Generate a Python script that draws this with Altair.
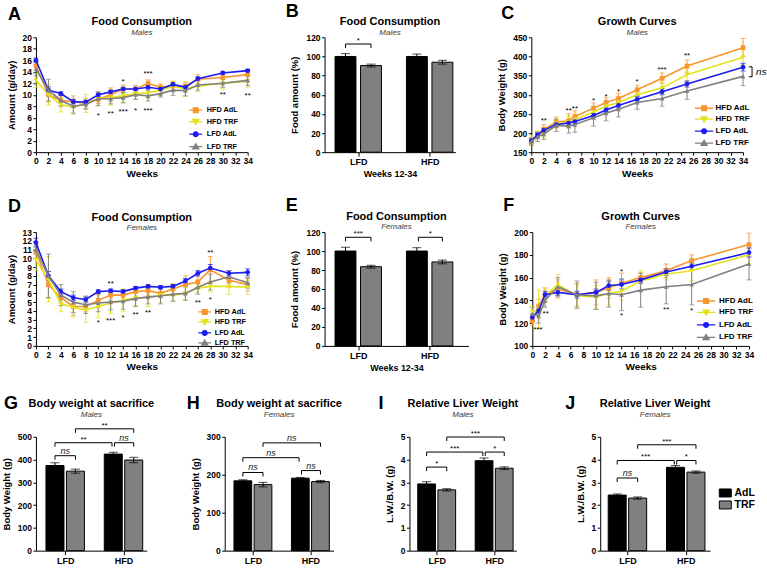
import altair as alt
import pandas as pd

FONT = "Liberation Sans"

# ---- series definitions -------------------------------------------------
SERIES = ["HFD AdL", "HFD TRF", "LFD AdL", "LFD TRF"]
SERIES_COLORS = ["#F7962F", "#E3E31B", "#1C1CF0", "#808080"]
POINT_SHAPES = ["square", "triangle-down", "circle", "triangle-up"]
GROUPS = ["AdL", "TRF"]
GROUP_COLORS = ["#000000", "#808080"]


def key_shapes(half):
    """Legend glyphs: a short line segment with the group's marker in its middle."""
    seg = f"M-{half},0H{half}"
    return [
        seg + "M-0.6,-0.6H0.6V0.6H-0.6Z",
        seg + "M-0.75,-0.55H0.75L0,0.7Z",
        seg + "M0.6,0A0.6,0.6,0,1,1,-0.6,0A0.6,0.6,0,1,1,0.6,0Z",
        seg + "M-0.75,0.55H0.75L0,-0.7Z",
    ]


# ---- A: food consumption, males ------------------------------------------
a_weeks = [0, 2, 4, 6, 8, 10, 12, 14, 16, 18, 20, 22, 24, 26, 30, 34]
a_hfd_adl = [15.0, 10.0, 9.0, 8.8, 8.5, 9.2, 10.0, 11.0, 11.0, 12.0, 11.3, 11.5, 11.5, 12.7, 13.0, 13.5]
a_hfd_trf = [12.5, 10.0, 8.3, 7.8, 8.5, 9.3, 9.5, 9.8, 10.2, 10.3, 10.8, 11.5, 11.0, 11.5, 12.0, 12.3]
a_lfd_adl = [16.0, 10.8, 10.2, 8.8, 8.7, 10.0, 10.5, 11.0, 11.0, 11.3, 11.0, 11.8, 11.3, 12.8, 13.8, 14.2]
a_lfd_trf = [14.5, 10.8, 9.0, 8.0, 8.3, 9.3, 9.3, 9.5, 10.0, 9.8, 10.2, 10.8, 10.7, 11.7, 12.0, 12.5]
a_hfd_adl_sem = [0.8, 1.2, 0.8, 1.0, 0.9, 0.7, 1.2, 0.7, 0.6, 0.6, 0.6, 0.8, 0.6, 0.8, 0.8, 0.9]
a_hfd_trf_sem = [1.2, 1.8, 1.3, 1.2, 1.6, 1.2, 1.3, 1.2, 1.0, 1.0, 0.8, 0.9, 1.3, 0.9, 1.0, 1.0]
a_lfd_adl_sem = [0.4, 0.6, 0.3, 0.4, 0.3, 0.3, 0.3, 0.3, 0.3, 0.3, 0.3, 0.3, 0.3, 0.3, 0.2, 0.2]
a_lfd_trf_sem = [1.2, 1.9, 1.0, 1.2, 0.8, 1.2, 0.9, 0.9, 0.8, 0.9, 0.6, 0.9, 0.9, 0.9, 0.7, 0.9]
a_star_weeks = [10, 12, 14, 16, 18, 14, 18, 30, 34]
a_star_y = [6.7, 7.0, 7.4, 7.6, 7.6, 12.5, 14.0, 10.3, 10.1]
a_star_text = ["*", "**", "***", "*", "***", "*", "***", "**", "**"]

# ---- C: growth curves, males ----------------------------------------------
c_weeks = [0, 1, 2, 4, 6, 7, 10, 12, 14, 17, 21, 25, 34]
c_hfd_adl = [178, 195, 210, 228, 232, 243, 265, 280, 290, 313, 343, 375, 423]
c_hfd_trf = [183, 190, 200, 225, 228, 235, 255, 270, 280, 300, 318, 352, 398]
c_lfd_adl = [180, 195, 207, 222, 226, 230, 246, 260, 272, 288, 308, 328, 372]
c_lfd_trf = [178, 190, 197, 220, 218, 222, 240, 252, 262, 280, 290, 310, 348]
c_hfd_adl_sem = [8, 10, 12, 14, 18, 15, 14, 12, 14, 12, 14, 16, 24]
c_hfd_trf_sem = [10, 12, 12, 12, 15, 14, 15, 14, 14, 14, 15, 16, 20]
c_lfd_adl_sem = [6, 6, 6, 6, 6, 6, 6, 6, 7, 7, 8, 8, 10]
c_lfd_trf_sem = [10, 12, 14, 16, 18, 20, 22, 20, 20, 18, 20, 22, 24]
c_star_weeks = [2, 6, 7, 10, 12, 14, 17, 21, 25]
c_star_y = [237, 262, 268, 290, 300, 312, 338, 369, 407]
c_star_text = ["**", "**", "**", "*", "*", "*", "*", "***", "**"]

# ---- D: food consumption, females -----------------------------------------
d_weeks = [0, 2, 4, 6, 8, 10, 12, 14, 16, 18, 20, 22, 24, 26, 28, 31, 34]
d_hfd_adl = [10.8, 7.0, 5.5, 4.5, 4.5, 5.2, 5.8, 5.8, 6.2, 6.3, 6.0, 6.5, 7.0, 7.3, 8.7, 7.5, 7.0]
d_hfd_trf = [9.8, 7.6, 4.8, 4.4, 4.1, 4.5, 4.9, 5.2, 5.5, 5.5, 5.8, 5.8, 6.0, 6.6, 6.8, 6.8, 6.7]
d_lfd_adl = [11.8, 8.0, 6.2, 5.5, 5.3, 6.2, 6.3, 6.2, 6.6, 6.8, 6.7, 6.8, 7.4, 8.3, 8.9, 8.3, 8.4]
d_lfd_trf = [11.0, 8.0, 5.8, 5.0, 4.7, 4.9, 5.0, 5.1, 5.4, 5.6, 5.7, 5.9, 6.0, 6.7, 7.3, 7.9, 7.2]
d_hfd_adl_sem = [0.8, 1.5, 0.6, 1.0, 0.6, 0.8, 0.6, 0.6, 0.5, 0.5, 0.5, 0.6, 1.0, 0.6, 1.5, 0.8, 0.7]
d_hfd_trf_sem = [1.2, 2.6, 0.9, 1.1, 1.4, 1.3, 1.2, 1.3, 0.9, 1.0, 0.8, 0.7, 0.7, 0.5, 0.6, 0.9, 0.8]
d_lfd_adl_sem = [0.5, 0.5, 0.3, 0.3, 0.3, 0.2, 0.2, 0.2, 0.2, 0.2, 0.2, 0.2, 0.3, 0.3, 0.4, 0.3, 0.4]
d_lfd_trf_sem = [0.5, 2.5, 1.2, 1.2, 1.0, 1.0, 0.9, 0.9, 0.9, 0.8, 0.9, 0.8, 0.8, 0.8, 0.9, 0.7, 0.6]
d_star_weeks = [10, 12, 14, 16, 18, 26, 28, 12, 28]
d_star_y = [2.9, 3.1, 3.4, 3.8, 4.0, 5.1, 5.5, 7.3, 10.8]
d_star_text = ["*", "***", "*", "**", "**", "**", "*", "**", "**"]

# ---- F: growth curves, females --------------------------------------------
f_weeks = [0, 1, 2, 4, 7, 10, 12, 14, 17, 21, 25, 34]
f_hfd_adl = [122, 135, 145, 150, 145, 147, 151, 155, 160, 166, 175, 189]
f_hfd_trf = [130, 132, 144, 154, 144, 143, 146, 148, 157, 163, 166, 180]
f_lfd_adl = [125, 131, 145, 147, 145, 147, 153, 154, 158, 165, 170, 182]
f_lfd_trf = [128, 126, 140, 152, 145, 144, 146, 145, 149, 152, 154, 172]
f_hfd_adl_sem = [4, 6, 6, 8, 10, 11, 9, 9, 4, 6, 5, 10]
f_hfd_trf_sem = [5, 17, 6, 9, 10, 10, 10, 8, 9, 5, 9, 8]
f_lfd_adl_sem = [3, 3, 3, 3, 3, 3, 4, 4, 3, 3, 3, 4]
f_lfd_trf_sem = [6, 6, 6, 8, 12, 12, 12, 14, 15, 15, 18, 14]
f_star_weeks = [0.9, 2.1, 14, 14, 21, 25]
f_star_y = [116, 130, 167, 128, 133, 132]
f_star_text = ["***", "**", "*", "*", "**", "*"]

# ---- bar panels: LFD AdL, LFD TRF, HFD AdL, HFD TRF -----------------------
b_means = [100, 90.5, 100, 94]
b_sems = [3, 1.5, 2.5, 2]
e_means = [100, 83.5, 100, 88.5]
e_sems = [4, 1.5, 3.5, 2]
g_means = [374, 349, 424, 398]
g_sems = [12, 9, 8, 12]
h_means = [184, 174, 191, 182]
h_sems = [3, 6, 2, 3]
i_means = [2.93, 2.67, 3.95, 3.62]
i_sems = [0.1, 0.05, 0.12, 0.06]
j_means = [2.44, 2.31, 3.66, 3.45]
j_sems = [0.05, 0.05, 0.08, 0.05]

# comparison brackets: (first bar, second bar, height, label)
b_brackets = [(0, 1, 113, "*")]
e_brackets = [(0, 1, 114.5, "***"), (2, 3, 114.5, "*")]
g_brackets = [(0, 1, 417, "ns"), (0, 2, 474, "**"), (2, 3, 474, "ns"), (1, 3, 535, "**")]
h_brackets = [(0, 1, 206, "ns"), (2, 3, 211, "ns"), (0, 2, 245, "ns"), (1, 3, 284, "ns")]
i_brackets = [(0, 1, 3.67, "*"), (0, 2, 4.33, "***"), (2, 3, 4.33, "*"), (1, 3, 4.99, "***")]
j_brackets = [(0, 1, 3.19, "ns"), (0, 2, 3.96, "***"), (2, 3, 3.96, "*"), (1, 3, 4.65, "***")]


def heading(width, title, subtitle, title_y, sub_y):
    """Panel title and italic subtitle drawn as text above the plot area."""
    t = alt.Chart(pd.DataFrame({"t": [title]})).mark_text(
        font=FONT, fontSize=11, fontWeight="bold", align="center",
        baseline="alphabetic", color="black",
    ).encode(text="t:N", x=alt.value(width / 2), y=alt.value(title_y))
    s = alt.Chart(pd.DataFrame({"t": [subtitle]})).mark_text(
        font=FONT, fontSize=8, fontStyle="italic", align="center",
        baseline="alphabetic", color="#3a3a3a",
    ).encode(text="t:N", x=alt.value(width / 2), y=alt.value(sub_y))
    return [t, s]


def letter_mark(letter, dx, dy):
    return alt.Chart(pd.DataFrame({"t": [letter]})).mark_text(
        font=FONT, fontSize=18, fontWeight="bold", align="left",
        baseline="alphabetic", color="black",
    ).encode(text="t:N", x=alt.value(dx), y=alt.value(dy))


def line_panel(weeks, means, sems, star_w, star_y, star_t, ydomain, yticks,
               ytitle, title, subtitle, letter, letter_xy, legend_xy,
               width, height, head_y=(-12, -2), row_pad=1.0, key_font=8,
               key_half=2.3, key_offset=1.0, extras=()):
    rows = []
    for name, m, s in zip(SERIES, means, sems):
        for w, v, e in zip(weeks, m, s):
            rows.append(dict(week=w, value=v, lo=v - e, hi=v + e, series=name))
    df = pd.DataFrame(rows)
    xs = alt.Scale(domain=[0, 34], nice=False, zero=False)
    ys = alt.Scale(domain=ydomain, nice=False, zero=False)
    xax = alt.Axis(values=list(range(0, 35, 2)), title="Weeks", titleFontSize=10, titlePadding=3)
    yax = alt.Axis(values=yticks, title=ytitle, titlePadding=6)

    def X(f):
        return alt.X(f, type="quantitative", scale=xs, axis=xax)

    def Y(f):
        return alt.Y(f, type="quantitative", scale=ys, axis=yax)

    base = alt.Chart(df)
    layers = []
    # one set of error bars, line and markers per group, each in its own colour
    for name, shp, col in zip(SERIES, POINT_SHAPES, SERIES_COLORS):
        sub = base.transform_filter(alt.datum.series == name)
        layers.append(sub.mark_errorbar(ticks=True, size=5, thickness=1, color=col).encode(
            x=X("week"), y=Y("lo"), y2="hi:Q"))
    for name, shp, col in zip(SERIES, POINT_SHAPES, SERIES_COLORS):
        sub = base.transform_filter(alt.datum.series == name)
        layers.append(sub.mark_line(strokeWidth=1.6, color=col).encode(
            x=X("week"), y=Y("value")))
        layers.append(sub.mark_point(shape=shp, filled=True, size=22, color=col, opacity=1).encode(
            x=X("week"), y=Y("value")))

    sdf = pd.DataFrame(dict(week=star_w, y=star_y, t=star_t))
    stars = alt.Chart(sdf).mark_text(font=FONT, fontSize=8, baseline="middle", dy=2,
                                     color="black").encode(x=X("week"), y=Y("y"), text="t:N")
    lg = alt.Legend(title=None, orient="none", legendX=legend_xy[0], legendY=legend_xy[1],
                    labelFont=FONT, labelFontSize=key_font, labelFontWeight="bold",
                    labelColor="black", symbolSize=64, symbolStrokeWidth=1.3,
                    labelOffset=key_offset, rowPadding=row_pad, padding=0, symbolOpacity=1)
    # key entries sit far below the axis range and are clipped away; only the legend shows
    key_df = pd.DataFrame({"series": SERIES, "week": [17] * 4,
                           "value": [ydomain[0] - 5 * (ydomain[1] - ydomain[0])] * 4})
    key = alt.Chart(key_df).mark_point(filled=True, opacity=1, clip=True).encode(
        x=X("week"), y=Y("value"),
        fill=alt.Fill("series:N", scale=alt.Scale(domain=SERIES, range=SERIES_COLORS), legend=lg),
        stroke=alt.Stroke("series:N", scale=alt.Scale(domain=SERIES, range=SERIES_COLORS), legend=lg),
        shape=alt.Shape("series:N", scale=alt.Scale(domain=SERIES, range=key_shapes(key_half)),
                        legend=lg),
    )
    extra_layers = [fn(X, Y) for fn in extras]
    return alt.layer(*layers, stars, key, *extra_layers,
                     *heading(width, title, subtitle, *head_y),
                     letter_mark(letter, *letter_xy)).properties(width=width, height=height)


def ns_bracket(X, Y):
    # bracket beside the last LFD points of the male growth curves
    seg = pd.DataFrame(dict(x1=[34.95, 35.45, 34.95], x2=[35.45, 35.45, 35.45],
                            y1=[373, 347, 347], y2=[373, 373, 347]))
    rules = alt.Chart(seg).mark_rule(color="black", strokeWidth=1).encode(
        x=X("x1"), x2="x2:Q", y=Y("y1"), y2="y2:Q")
    lab = alt.Chart(pd.DataFrame(dict(x=[36.1], y=[360], t=["ns"]))).mark_text(
        font=FONT, fontSize=10, fontStyle="italic", align="left", baseline="middle",
        color="black").encode(x=X("x"), y=Y("y"), text="t:N")
    return alt.layer(rules, lab)


def bar_panel(means, sems, brackets, ydomain, yticks, ytitle, title, subtitle,
              letter, letter_xy, xdomain, positions, half, width, height,
              head_y, xtitle=None, legend=None, cap=9):
    df = pd.DataFrame(dict(pos=positions, mean=means,
                           lo=[m - s for m, s in zip(means, sems)],
                           hi=[m + s for m, s in zip(means, sems)],
                           group=GROUPS * 2))
    df["left"] = df["pos"] - half
    df["right"] = df["pos"] + half
    centers = [(positions[0] + positions[1]) / 2, (positions[2] + positions[3]) / 2]
    split = (positions[1] + positions[2]) / 2
    xs = alt.Scale(domain=xdomain, nice=False, zero=False)
    ys = alt.Scale(domain=ydomain, nice=False)
    xax = alt.Axis(values=centers, labelExpr=f"datum.value < {split} ? 'LFD' : 'HFD'",
                   title=xtitle, labelFontSize=9, tickSize=4, titleFontSize=9, titlePadding=3)
    yax = alt.Axis(values=yticks, title=ytitle, titlePadding=6)

    def X(f):
        return alt.X(f, type="quantitative", scale=xs, axis=xax)

    def Y(f):
        return alt.Y(f, type="quantitative", scale=ys, axis=yax)

    fill = alt.Fill("group:N", scale=alt.Scale(domain=GROUPS, range=GROUP_COLORS), legend=legend)
    bars = alt.Chart(df).mark_bar(stroke="black", strokeWidth=1).encode(
        x=X("left"), x2="right:Q", y=Y("mean"), y2=alt.datum(0), fill=fill)
    err = alt.Chart(df).mark_errorbar(ticks=True, size=cap, thickness=1, color="black").encode(
        x=X("pos"), y=Y("lo"), y2="hi:Q")

    drop = 0.035 * (ydomain[1] - ydomain[0])
    hseg, vseg, labels = [], [], []
    for a, b, yb, t in brackets:
        xa = positions[a] + (0.06 if a == 2 and b == 3 else 0)
        xb = positions[b] - (0.06 if a == 0 and b == 2 else 0)
        hseg.append(dict(x1=xa, x2=xb, y=yb))
        vseg.append(dict(x=xa, y1=yb, y2=yb - drop))
        vseg.append(dict(x=xb, y1=yb, y2=yb - drop))
        labels.append(dict(x=(xa + xb) / 2, y=yb, t=t, ns=(t == "ns")))
    hdf, vdf, ldf = pd.DataFrame(hseg), pd.DataFrame(vseg), pd.DataFrame(labels)
    hr = alt.Chart(hdf).mark_rule(color="black", strokeWidth=1).encode(
        x=X("x1"), x2="x2:Q", y=Y("y"))
    vr = alt.Chart(vdf).mark_rule(color="black", strokeWidth=1).encode(
        x=X("x"), y=Y("y1"), y2="y2:Q")
    star_txt = alt.Chart(ldf).transform_filter("!datum.ns").mark_text(
        font=FONT, fontSize=8, baseline="alphabetic", dy=-1, color="black").encode(
        x=X("x"), y=Y("y"), text="t:N")
    ns_txt = alt.Chart(ldf).transform_filter("datum.ns").mark_text(
        font=FONT, fontSize=9, fontStyle="italic", baseline="alphabetic", dy=-2,
        color="#222222").encode(x=X("x"), y=Y("y"), text="t:N")
    return alt.layer(bars, err, hr, vr, star_txt, ns_txt,
                     *heading(width, title, subtitle, *head_y),
                     letter_mark(letter, *letter_xy)).properties(width=width, height=height)


def separate(chart):
    """Keep colour/shape scales of each panel independent of the others."""
    return chart.resolve_scale(color="independent", fill="independent",
                               stroke="independent", shape="independent")


TOP_POS = [0, 1, 2.8, 3.8]
LOW_POS = [0, 1, 2.85, 3.85]

panel_a = line_panel(a_weeks, [a_hfd_adl, a_hfd_trf, a_lfd_adl, a_lfd_trf],
                     [a_hfd_adl_sem, a_hfd_trf_sem, a_lfd_adl_sem, a_lfd_trf_sem],
                     a_star_weeks, a_star_y, a_star_text, [0, 20], list(range(0, 21, 2)),
                     "Amount (g/day)", "Food Consumption", "Males", "A", (-28, -17),
                     (155, 68), 212, 115, row_pad=1.5, key_font=7.3, key_half=1.6,
                     key_offset=6)
panel_b = bar_panel(b_means, b_sems, b_brackets, [0, 120], list(range(0, 121, 20)),
                    "Food amount (%)", "Food Consumption", "Males", "B", (-39, -20),
                    [-0.82, 4.31], TOP_POS, 0.41, 131, 115, (-12, -2), xtitle="Weeks 12-34")
panel_c = line_panel(c_weeks, [c_hfd_adl, c_hfd_trf, c_lfd_adl, c_lfd_trf],
                     [c_hfd_adl_sem, c_hfd_trf_sem, c_lfd_adl_sem, c_lfd_trf_sem],
                     c_star_weeks, c_star_y, c_star_text, [150, 450], list(range(150, 451, 50)),
                     "Body Weight (g)", "Growth Curves", "Males", "C", (-30, -18),
                     (168, 66), 212, 115, row_pad=1.0, key_offset=6.5, extras=(ns_bracket,))

panel_d = line_panel(d_weeks, [d_hfd_adl, d_hfd_trf, d_lfd_adl, d_lfd_trf],
                     [d_hfd_adl_sem, d_hfd_trf_sem, d_lfd_adl_sem, d_lfd_trf_sem],
                     d_star_weeks, d_star_y, d_star_text, [0, 13], list(range(0, 14)),
                     "Amount (g/day)", "Food Consumption", "Females", "D", (-28, -20),
                     (164, 75), 212, 114, head_y=(-11, -2), row_pad=-1.0, key_font=7.3,
                     key_half=1.6, key_offset=5)
panel_e = bar_panel(e_means, e_sems, e_brackets, [0, 120], list(range(0, 121, 20)),
                    "Food amount (%)", "Food Consumption", "Females", "E", (-39, -21),
                    [-0.82, 4.82], TOP_POS, 0.41, 144, 114, (-12, -3), xtitle="Weeks 12-34")
panel_f = line_panel(f_weeks, [f_hfd_adl, f_hfd_trf, f_lfd_adl, f_lfd_trf],
                     [f_hfd_adl_sem, f_hfd_trf_sem, f_lfd_adl_sem, f_lfd_trf_sem],
                     f_star_weeks, f_star_y, f_star_text, [100, 200], list(range(100, 201, 20)),
                     "Body Weight (g)", "Growth Curves", "Females", "F", (-29, -21),
                     (169, 64), 217, 114, head_y=(-12, -3), row_pad=1.5, key_offset=8)

key_legend = alt.Legend(title=None, orient="none", legendX=120, legendY=51,
                        symbolType="M-1.5,-1H1.5V1H-1.5Z", symbolSize=64,
                        symbolStrokeColor="black", symbolStrokeWidth=1,
                        labelFont=FONT, labelFontSize=10.5, labelFontWeight="bold",
                        labelColor="black", labelOffset=4, rowPadding=-5, padding=0)

panel_g = bar_panel(g_means, g_sems, g_brackets, [0, 500], list(range(0, 501, 100)),
                    "Body Weight (g)", "Body weight at sacrifice", "Males", "G", (-32, -28),
                    [-0.93, 4.49], LOW_POS, 0.44, 111, 114, (-30, -20))
panel_h = bar_panel(h_means, h_sems, h_brackets, [0, 300], list(range(0, 301, 100)),
                    "Body Weight (g)", "Body weight at sacrifice", "Females", "H", (-38, -28),
                    [-0.9, 4.5], LOW_POS, 0.44, 109, 114, (-30, -20))
panel_i = bar_panel(i_means, i_sems, i_brackets, [0, 5], list(range(0, 6)),
                    "L.W./B.W. (g)", "Relative Liver Weight", "Males", "I", (-31, -28),
                    [-0.85, 4.45], LOW_POS, 0.44, 107, 114, (-30, -20))
panel_j = bar_panel(j_means, j_sems, j_brackets, [0, 5], list(range(0, 6)),
                    "L.W./B.W. (g)", "Relative Liver Weight", "Females", "J", (-35, -28),
                    [-0.83, 4.54], LOW_POS, 0.44, 110, 114, (-30, -20), legend=key_legend)

row1 = separate(alt.hconcat(separate(alt.hconcat(panel_a, panel_b, spacing=77, bounds="flush")),
                            panel_c, spacing=41))
row2 = separate(alt.hconcat(separate(alt.hconcat(panel_d, panel_e, spacing=77, bounds="flush")),
                            panel_f, spacing=29))
row3 = separate(alt.hconcat(separate(alt.hconcat(panel_g, panel_h, spacing=78, bounds="flush")),
                            separate(alt.hconcat(panel_i, panel_j, spacing=84, bounds="flush")),
                            spacing=36))

chart = separate(alt.vconcat(separate(alt.vconcat(row1, row2, spacing=18)), row3, spacing=22)).properties(
    padding={"left": 1, "top": 3, "right": 0, "bottom": 0}
).configure_view(stroke=None).configure_axis(
    labelFont=FONT, labelFontSize=8.5, labelFontWeight="bold", labelColor="black",
    titleFont=FONT, titleFontSize=9.5, titleFontWeight="bold", titleColor="black",
    domainColor="black", domainWidth=1, tickColor="black", tickWidth=1, tickSize=3,
    grid=False, labelPadding=1.5, labelOverlap=False, labelFlush=False,
)

chart.save("out.html", embed_options={"renderer": "svg", "actions": False})
